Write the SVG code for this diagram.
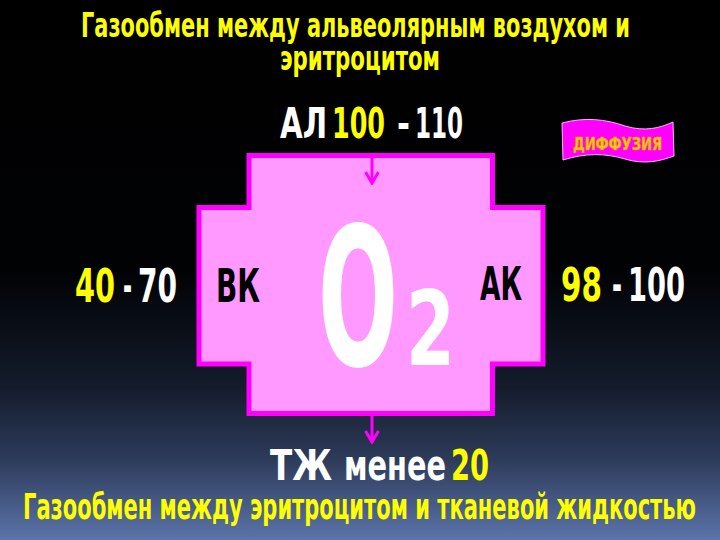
<svg xmlns="http://www.w3.org/2000/svg" width="720" height="540" viewBox="0 0 720 540">
<defs>
<linearGradient id="bg" x1="0" y1="0" x2="0" y2="1">
<stop offset="0" stop-color="#000000"/>
<stop offset="0.5" stop-color="#010204"/>
<stop offset="0.72" stop-color="#141c2c"/>
<stop offset="0.85" stop-color="#2d3b5a"/>
<stop offset="1" stop-color="#5b74aa"/>
</linearGradient>
<marker id="head" markerWidth="14" markerHeight="16" refX="12" refY="8" orient="auto" markerUnits="userSpaceOnUse" viewBox="0 0 14 16">
<path d="M1,1.5 L12,8 L1,14.5" fill="none" stroke="#ff00ff" stroke-width="3"/>
</marker>
<style>
.t{font-family:"Liberation Sans Narrow","DejaVu Sans Condensed","Liberation Sans",sans-serif;font-weight:bold}
.y{fill:#ffff00}
.w{fill:#ffffff}
.k{fill:#000000}
.conn{stroke:#ff00ff;stroke-width:3;fill:none}
</style>
</defs>
<rect x="0" y="0" width="720" height="540" fill="url(#bg)"/>

<g id="title">
<text class="t y" x="81" y="37" font-size="33" textLength="549" lengthAdjust="spacingAndGlyphs">Газообмен между альвеолярным воздухом и</text>
<text class="t y" x="280" y="70" font-size="33" textLength="160" lengthAdjust="spacingAndGlyphs">эритроцитом</text>
</g>

<g id="cross">
<path d="M249,155.5 H492.5 V207.5 H543 V364 H492.5 V413.5 H249 V364 H199 V207.5 H249 Z" fill="#ff99ff" stroke="#ff00ff" stroke-width="5"/>
<text class="t w" x="318" y="365" font-size="192" textLength="80" lengthAdjust="spacingAndGlyphs">O</text>
<text class="t w" x="406" y="365" font-size="104" textLength="49" lengthAdjust="spacingAndGlyphs">2</text>
<text class="t k" x="216" y="302" font-size="46" textLength="44" lengthAdjust="spacingAndGlyphs">ВК</text>
<text class="t k" x="480" y="300" font-size="46" textLength="42" lengthAdjust="spacingAndGlyphs">АК</text>
</g>

<g id="al">
<text class="t w" x="280" y="138" font-size="42" textLength="47" lengthAdjust="spacingAndGlyphs">АЛ</text>
<text class="t y" x="332" y="138" font-size="42" textLength="53" lengthAdjust="spacingAndGlyphs">100</text>
<text class="t w" x="397" y="138" font-size="42" textLength="13" lengthAdjust="spacingAndGlyphs">-</text>
<text class="t w" x="415" y="138" font-size="42" textLength="48" lengthAdjust="spacingAndGlyphs">110</text>
</g>

<g id="vk-value">
<text class="t y" x="75" y="302" font-size="47" textLength="40" lengthAdjust="spacingAndGlyphs">40</text>
<text class="t w" x="123" y="302" font-size="47" textLength="9" lengthAdjust="spacingAndGlyphs">-</text>
<text class="t w" x="138" y="302" font-size="47" textLength="39" lengthAdjust="spacingAndGlyphs">70</text>
</g>

<g id="ak-value">
<text class="t y" x="561" y="301" font-size="47" textLength="41" lengthAdjust="spacingAndGlyphs">98</text>
<text class="t w" x="612" y="301" font-size="47" textLength="10" lengthAdjust="spacingAndGlyphs">-</text>
<text class="t w" x="628" y="301" font-size="47" textLength="57" lengthAdjust="spacingAndGlyphs">100</text>
</g>

<g id="diffusion">
<path d="M562,123 C585,117 605,119 625,126 C645,132 660,128 673,122 L674,156 C660,161 645,165 625,159 C605,153 585,153 563,160 Z" fill="#ff00ff" stroke="#ffb3ff" stroke-width="1"/>
<text class="t" x="573" y="150" font-size="17" fill="#ffd000" stroke="#ff9900" stroke-width="0.6" textLength="89" lengthAdjust="spacingAndGlyphs">ДИФФУЗИЯ</text>
</g>

<g id="tzh">
<text class="t w" x="270" y="480" font-size="43" textLength="62" lengthAdjust="spacingAndGlyphs">ТЖ</text>
<text class="t w" x="344" y="480" font-size="43" textLength="102" lengthAdjust="spacingAndGlyphs">менее</text>
<text class="t y" x="451" y="480" font-size="43" textLength="38" lengthAdjust="spacingAndGlyphs">20</text>
</g>

<g id="subtitle">
<text class="t y" x="23" y="519" font-size="35" textLength="673" lengthAdjust="spacingAndGlyphs">Газообмен между эритроцитом и тканевой жидкостью</text>
</g>

<g id="connectors">
<path class="conn" d="M372,158 V183" marker-end="url(#head)"/>
<path class="conn" d="M372,416 V442" marker-end="url(#head)"/>
</g>
</svg>
